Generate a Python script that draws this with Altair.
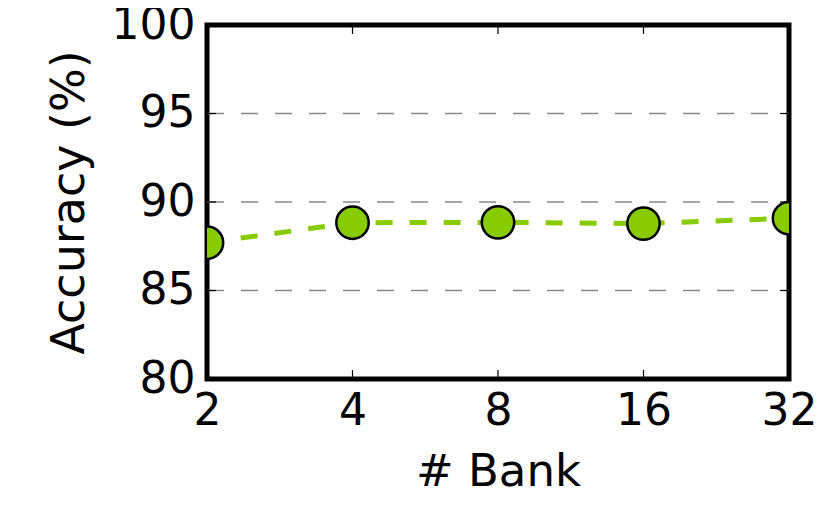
import altair as alt
import pandas as pd

banks = [2, 4, 8, 16, 32]
accuracy = [87.7, 88.83, 88.85, 88.78, 89.08]
x_ticks = [2, 4, 8, 16, 32]
y_ticks = [80, 85, 90, 95, 100]
inner_x = [4, 8, 16]
inner_y = [85, 90, 95]

W, H = 582, 354
FONT = "DejaVu Sans"
GREEN = "#88cc00"

df = pd.DataFrame({"bank": banks, "acc": accuracy})
dx = pd.DataFrame({"bank": inner_x})
dy = pd.DataFrame({"acc": inner_y})

xscale = alt.Scale(type="log", base=2, domain=[2, 32], nice=False)
yscale = alt.Scale(domain=[80, 100], nice=False, zero=False)

xaxis = alt.Axis(values=x_ticks, format="d", title="# Bank", labelFont=FONT, titleFont=FONT,
                 labelFontSize=44, titleFontSize=45, titleFontWeight="normal", labelColor="black",
                 titleColor="black", domain=False, ticks=False, grid=False, labelPadding=10,
                 titlePadding=16, labelFlush=False)
yaxis = alt.Axis(values=y_ticks, title="Accuracy (%)", labelFont=FONT, titleFont=FONT,
                 labelFontSize=44, titleFontSize=46, titleFontWeight="normal", labelColor="black",
                 titleColor="black", domain=False, ticks=False, grid=False, labelPadding=12,
                 titlePadding=18, labelFlush=False)

base = alt.Chart(df)

grid = alt.Chart(dy).mark_rule(color="#888888", strokeWidth=1.5, strokeDash=[17, 17]).encode(
    y=alt.Y("acc:Q", scale=yscale), x=alt.value(0), x2=alt.value(W))

line = base.mark_line(color=GREEN, strokeWidth=5, strokeDash=[17, 17], clip=True).encode(
    x=alt.X("bank:Q", scale=xscale, axis=xaxis),
    y=alt.Y("acc:Q", scale=yscale, axis=yaxis),
)
points = base.mark_point(shape="circle", filled=True, fill=GREEN, fillOpacity=1, size=1050,
                         stroke="black", strokeWidth=2.5, clip=True, opacity=1).encode(
    x=alt.X("bank:Q", scale=xscale),
    y=alt.Y("acc:Q", scale=yscale),
)

tb = alt.Chart(dx).mark_rule(color="black", strokeWidth=1.2).encode(
    x=alt.X("bank:Q", scale=xscale), y=alt.value(H), y2=alt.value(H - 9))
tt = alt.Chart(dx).mark_rule(color="black", strokeWidth=1.2).encode(
    x=alt.X("bank:Q", scale=xscale), y=alt.value(0), y2=alt.value(9))
tl = alt.Chart(dy).mark_rule(color="black", strokeWidth=1.2).encode(
    y=alt.Y("acc:Q", scale=yscale), x=alt.value(0), x2=alt.value(9))
tr = alt.Chart(dy).mark_rule(color="black", strokeWidth=1.2).encode(
    y=alt.Y("acc:Q", scale=yscale), x=alt.value(W), x2=alt.value(W - 9))

chart = alt.layer(grid, line, tb, tt, tl, tr, points).properties(
    width=W, height=H,
    background="white",
    autosize=alt.AutoSizeParams(type="none"),
    padding={"left": 199, "top": 17, "right": 30, "bottom": 120},
).configure_view(stroke="black", strokeWidth=5)

chart.save("out.html", embed_options={"renderer": "svg", "actions": False})
